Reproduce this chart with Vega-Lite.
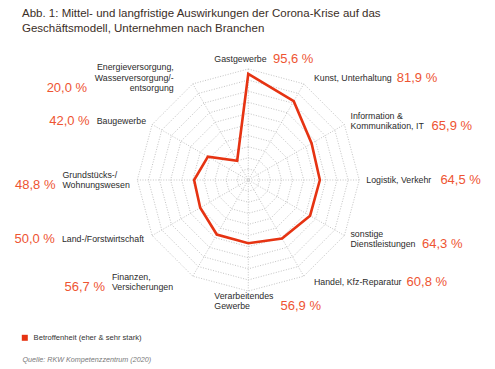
{
  "$schema": "https://vega.github.io/schema/vega-lite/v6.json",
  "width": 495,
  "height": 299,
  "autosize": {"type": "none"},
  "padding": {"top": 40, "left": 0, "right": 0, "bottom": 30},
  "background": "white",
  "title": {
    "text": ["Abb. 1: Mittel- und langfristige Auswirkungen der Corona-Krise auf das", "Geschäftsmodell, Unternehmen nach Branchen"],
    "anchor": "start",
    "frame": "group",
    "dx": 22,
    "offset": 6,
    "font": "Liberation Sans",
    "fontSize": 11.5,
    "fontWeight": "normal",
    "color": "#3b2e26",
    "lineHeight": 15
  },
  "datasets": {
    "main": [
      {"label": ["Gastgewerbe"], "value": 95.6, "idx": 0},
      {"label": ["Kunst, Unterhaltung"], "value": 81.9, "idx": 1},
      {"label": ["Information &", "Kommunikation, IT"], "value": 65.9, "idx": 2},
      {"label": ["Logistik, Verkehr"], "value": 64.5, "idx": 3},
      {"label": ["sonstige", "Dienstleistungen"], "value": 64.3, "idx": 4},
      {"label": ["Handel, Kfz-Reparatur"], "value": 60.8, "idx": 5},
      {"label": ["Verarbeitendes", "Gewerbe"], "value": 56.9, "idx": 6},
      {"label": ["Finanzen,", "Versicherungen"], "value": 56.7, "idx": 7},
      {"label": ["Land-/Forstwirtschaft"], "value": 50.0, "idx": 8},
      {"label": ["Grundstücks-/", "Wohnungswesen"], "value": 48.8, "idx": 9},
      {"label": ["Baugewerbe"], "value": 42.0, "idx": 10},
      {"label": ["Energieversorgung,", "Wasserversorgung/-", "entsorgung"], "value": 20.0, "idx": 11}
    ],
    "grid": [
      {"level": 10, "k": [0,1,2,3,4,5,6,7,8,9,10,11]},
      {"level": 20, "k": [0,1,2,3,4,5,6,7,8,9,10,11]},
      {"level": 30, "k": [0,1,2,3,4,5,6,7,8,9,10,11]},
      {"level": 40, "k": [0,1,2,3,4,5,6,7,8,9,10,11]},
      {"level": 50, "k": [0,1,2,3,4,5,6,7,8,9,10,11]},
      {"level": 60, "k": [0,1,2,3,4,5,6,7,8,9,10,11]},
      {"level": 70, "k": [0,1,2,3,4,5,6,7,8,9,10,11]},
      {"level": 80, "k": [0,1,2,3,4,5,6,7,8,9,10,11]},
      {"level": 90, "k": [0,1,2,3,4,5,6,7,8,9,10,11]},
      {"level": 100, "k": [0,1,2,3,4,5,6,7,8,9,10,11]}
    ]
  },
  "encoding": {
    "x": {
      "field": "x", "type": "quantitative",
      "scale": {"domain": [-223.7, 222.3], "nice": false, "zero": false},
      "axis": {
        "title": "Quelle: RKW Kompetenzzentrum (2020)",
        "domain": false, "ticks": false, "labels": false, "grid": false,
        "titleX": 22, "titleY": 20, "titleAlign": "left", "titleAnchor": "start",
        "titleBaseline": "middle", "titleFontStyle": "italic", "titleFontWeight": "normal",
        "titleFontSize": 7.2, "titleColor": "#7a7a7a", "titleFont": "Liberation Sans"
      }
    },
    "y": {
      "field": "y", "type": "quantitative",
      "scale": {"domain": [-143.2, 126.1], "nice": false, "zero": false},
      "axis": null
    }
  },
  "layer": [
    {
      "data": {"name": "grid"},
      "transform": [
        {"flatten": ["k"]},
        {"calculate": "datum.k*PI/6", "as": "a"},
        {"calculate": "datum.level*sin(datum.a)", "as": "x"},
        {"calculate": "datum.level*cos(datum.a)", "as": "y"}
      ],
      "mark": {"type": "line", "interpolate": "linear-closed", "stroke": "#c4c4c4", "strokeWidth": 1, "strokeDash": [1, 1.6]},
      "encoding": {"detail": {"field": "level"}, "order": {"field": "k"}}
    },
    {
      "data": {"name": "main"},
      "transform": [
        {"calculate": "datum.idx*PI/6", "as": "a"},
        {"calculate": "100*sin(datum.a)", "as": "x"},
        {"calculate": "100*cos(datum.a)", "as": "y"}
      ],
      "mark": {"type": "rule", "stroke": "#c4c4c4", "strokeWidth": 1, "strokeDash": [1, 1.6]},
      "encoding": {"x2": {"datum": 0}, "y2": {"datum": 0}}
    },
    {
      "data": {"name": "main"},
      "transform": [
        {"calculate": "datum.idx*PI/6", "as": "a"},
        {"calculate": "datum.value*sin(datum.a)", "as": "x"},
        {"calculate": "datum.value*cos(datum.a)", "as": "y"}
      ],
      "mark": {"type": "line", "interpolate": "linear-closed", "strokeWidth": 2.6, "strokeJoin": "miter"},
      "encoding": {
        "order": {"field": "idx"},
        "color": {
          "datum": "Betroffenheit (eher & sehr stark)",
          "scale": {"range": ["#e63312"]},
          "legend": {
            "title": null, "orient": "none", "legendX": 21, "legendY": 294,
            "symbolType": "square", "symbolSize": 36, "symbolFillColor": "#e63312",
            "symbolStrokeColor": "#e63312", "symbolStrokeWidth": 0,
            "labelFont": "Liberation Sans", "labelFontSize": 7.6,
            "labelColor": "#333333", "labelOffset": 5, "padding": 0
          }
        }
      }
    },
    {
      "data": {"name": "main"},
      "transform": [
        {"calculate": "datum.idx*PI/6", "as": "a"},
        {"calculate": "length(datum.label)", "as": "nl"},
        {"calculate": "datum.label[0]", "as": "l0"},
        {"calculate": "datum.nl > 1 ? datum.label[1] : ''", "as": "l1"},
        {"calculate": "datum.nl > 2 ? datum.label[2] : ''", "as": "l2"},
        {"calculate": "0.54*length(datum.l0) - 0.29*(length(datum.l0)-length(replace(datum.l0, regexp('[ijlft ,./I]','g'), ''))) - 0.2*(length(datum.l0)-length(replace(datum.l0, regexp('[r()-]','g'), ''))) + 0.27*(length(datum.l0)-length(replace(datum.l0, regexp('[mwMW]','g'), ''))) + 0.15*(length(datum.l0)-length(replace(datum.l0, regexp('[A-Z&]','g'), '')))", "as": "w0"},
        {"calculate": "0.54*length(datum.l1) - 0.29*(length(datum.l1)-length(replace(datum.l1, regexp('[ijlft ,./I]','g'), ''))) - 0.2*(length(datum.l1)-length(replace(datum.l1, regexp('[r()-]','g'), ''))) + 0.27*(length(datum.l1)-length(replace(datum.l1, regexp('[mwMW]','g'), ''))) + 0.15*(length(datum.l1)-length(replace(datum.l1, regexp('[A-Z&]','g'), '')))", "as": "w1"},
        {"calculate": "0.54*length(datum.l2) - 0.29*(length(datum.l2)-length(replace(datum.l2, regexp('[ijlft ,./I]','g'), ''))) - 0.2*(length(datum.l2)-length(replace(datum.l2, regexp('[r()-]','g'), ''))) + 0.27*(length(datum.l2)-length(replace(datum.l2, regexp('[mwMW]','g'), ''))) + 0.15*(length(datum.l2)-length(replace(datum.l2, regexp('[A-Z&]','g'), '')))", "as": "w2"},
        {"calculate": "max(datum.w0, datum.w1, datum.w2) * 8.8 / 1.11", "as": "wmax"},
        {"calculate": "(datum.idx == 0 || datum.idx == 6) ? 'tb' : (datum.idx < 6 ? 'r' : 'l')", "as": "s"},
        {"filter": "datum.idx != 11"},
        {"calculate": "(datum.idx == 1 || datum.idx == 5) ? 6 : ((datum.idx == 7 || datum.idx == 11) ? -14 : 0)", "as": "ex"},
        {"calculate": "datum.s == 'tb' ? -30.6 : 106.3*sin(datum.a) + datum.ex", "as": "ax"},
        {"calculate": "(datum.s == 'tb' ? 109*cos(datum.a) : 106.3*cos(datum.a)) + (datum.nl - 1)*4.73", "as": "y"},
        {"calculate": "datum.s == 'l' ? datum.ax - datum.wmax : datum.ax", "as": "x"}
      ],
      "mark": {"type": "text", "align": "left", "baseline": "middle", "font": "Liberation Sans", "fontSize": 8.8, "lineHeight": 10.5, "color": "#2b2b2b"},
      "encoding": {"text": {"field": "label"}}
    },
    {
      "data": {"name": "main"},
      "transform": [
        {"filter": "datum.idx == 11"},
        {"calculate": "datum.idx*PI/6", "as": "a"},
        {"calculate": "length(datum.label)", "as": "nl"},
        {"calculate": "106.3*sin(datum.a) - 14", "as": "x"},
        {"calculate": "106.3*cos(datum.a) + (datum.nl - 1)*4.73", "as": "y"}
      ],
      "mark": {"type": "text", "align": "right", "baseline": "middle", "font": "Liberation Sans", "fontSize": 8.8, "lineHeight": 10.5, "color": "#2b2b2b"},
      "encoding": {"text": {"field": "label"}}
    },
    {
      "data": {"name": "main"},
      "transform": [
        {"calculate": "datum.idx*PI/6", "as": "a"},
        {"calculate": "length(datum.label)", "as": "nl"},
        {"calculate": "datum.label[0]", "as": "l0"},
        {"calculate": "datum.nl > 1 ? datum.label[1] : ''", "as": "l1"},
        {"calculate": "datum.nl > 2 ? datum.label[2] : ''", "as": "l2"},
        {"calculate": "0.54*length(datum.l0) - 0.29*(length(datum.l0)-length(replace(datum.l0, regexp('[ijlft ,./I]','g'), ''))) - 0.2*(length(datum.l0)-length(replace(datum.l0, regexp('[r()-]','g'), ''))) + 0.27*(length(datum.l0)-length(replace(datum.l0, regexp('[mwMW]','g'), ''))) + 0.15*(length(datum.l0)-length(replace(datum.l0, regexp('[A-Z&]','g'), '')))", "as": "w0"},
        {"calculate": "0.54*length(datum.l1) - 0.29*(length(datum.l1)-length(replace(datum.l1, regexp('[ijlft ,./I]','g'), ''))) - 0.2*(length(datum.l1)-length(replace(datum.l1, regexp('[r()-]','g'), ''))) + 0.27*(length(datum.l1)-length(replace(datum.l1, regexp('[mwMW]','g'), ''))) + 0.15*(length(datum.l1)-length(replace(datum.l1, regexp('[A-Z&]','g'), '')))", "as": "w1"},
        {"calculate": "0.54*length(datum.l2) - 0.29*(length(datum.l2)-length(replace(datum.l2, regexp('[ijlft ,./I]','g'), ''))) - 0.2*(length(datum.l2)-length(replace(datum.l2, regexp('[r()-]','g'), ''))) + 0.27*(length(datum.l2)-length(replace(datum.l2, regexp('[mwMW]','g'), ''))) + 0.15*(length(datum.l2)-length(replace(datum.l2, regexp('[A-Z&]','g'), '')))", "as": "w2"},
        {"calculate": "max(datum.w0, datum.w1, datum.w2) * 8.8 / 1.11", "as": "wmax"},
        {"calculate": "(datum.idx == 0 || datum.idx == 6) ? 'tb' : (datum.idx < 6 ? 'r' : 'l')", "as": "s"},
        {"filter": "datum.s != 'l'"},
        {"calculate": "(datum.idx == 1 || datum.idx == 5) ? 6 : 0", "as": "ex"},
        {"calculate": "datum.s == 'tb' ? -30.6 : 106.3*sin(datum.a) + datum.ex", "as": "ax"},
        {"calculate": "(datum.s == 'tb' ? 109*cos(datum.a) : 106.3*cos(datum.a)) - (datum.nl - 1)*4.73", "as": "y"},
        {"calculate": "datum.ax + datum.wmax + 6.3", "as": "x"},
        {"calculate": "replace(format(datum.value, '.1f'), '.', ',') + ' %'", "as": "vt"}
      ],
      "mark": {"type": "text", "align": "left", "baseline": "middle", "font": "Liberation Sans", "fontSize": 13, "color": "#ee5432"},
      "encoding": {"text": {"field": "vt"}}
    },
    {
      "data": {"name": "main"},
      "transform": [
        {"calculate": "datum.idx*PI/6", "as": "a"},
        {"calculate": "length(datum.label)", "as": "nl"},
        {"calculate": "datum.label[0]", "as": "l0"},
        {"calculate": "datum.nl > 1 ? datum.label[1] : ''", "as": "l1"},
        {"calculate": "datum.nl > 2 ? datum.label[2] : ''", "as": "l2"},
        {"calculate": "0.54*length(datum.l0) - 0.29*(length(datum.l0)-length(replace(datum.l0, regexp('[ijlft ,./I]','g'), ''))) - 0.2*(length(datum.l0)-length(replace(datum.l0, regexp('[r()-]','g'), ''))) + 0.27*(length(datum.l0)-length(replace(datum.l0, regexp('[mwMW]','g'), ''))) + 0.15*(length(datum.l0)-length(replace(datum.l0, regexp('[A-Z&]','g'), '')))", "as": "w0"},
        {"calculate": "0.54*length(datum.l1) - 0.29*(length(datum.l1)-length(replace(datum.l1, regexp('[ijlft ,./I]','g'), ''))) - 0.2*(length(datum.l1)-length(replace(datum.l1, regexp('[r()-]','g'), ''))) + 0.27*(length(datum.l1)-length(replace(datum.l1, regexp('[mwMW]','g'), ''))) + 0.15*(length(datum.l1)-length(replace(datum.l1, regexp('[A-Z&]','g'), '')))", "as": "w1"},
        {"calculate": "0.54*length(datum.l2) - 0.29*(length(datum.l2)-length(replace(datum.l2, regexp('[ijlft ,./I]','g'), ''))) - 0.2*(length(datum.l2)-length(replace(datum.l2, regexp('[r()-]','g'), ''))) + 0.27*(length(datum.l2)-length(replace(datum.l2, regexp('[mwMW]','g'), ''))) + 0.15*(length(datum.l2)-length(replace(datum.l2, regexp('[A-Z&]','g'), '')))", "as": "w2"},
        {"calculate": "max(datum.w0, datum.w1, datum.w2) * 8.8 / 1.11", "as": "wmax"},
        {"filter": "datum.idx > 6"},
        {"calculate": "(datum.idx == 7 || datum.idx == 11) ? -14 : 0", "as": "ex"},
        {"calculate": "106.3*sin(datum.a) + datum.ex", "as": "ax"},
        {"calculate": "106.3*cos(datum.a) - (datum.nl - 1)*4.73", "as": "y"},
        {"calculate": "datum.ax - datum.wmax - 6.3", "as": "x"},
        {"calculate": "replace(format(datum.value, '.1f'), '.', ',') + ' %'", "as": "vt"}
      ],
      "mark": {"type": "text", "align": "right", "baseline": "middle", "font": "Liberation Sans", "fontSize": 13, "color": "#ee5432"},
      "encoding": {"text": {"field": "vt"}}
    }
  ],
  "config": {"view": {"stroke": null}}
}
